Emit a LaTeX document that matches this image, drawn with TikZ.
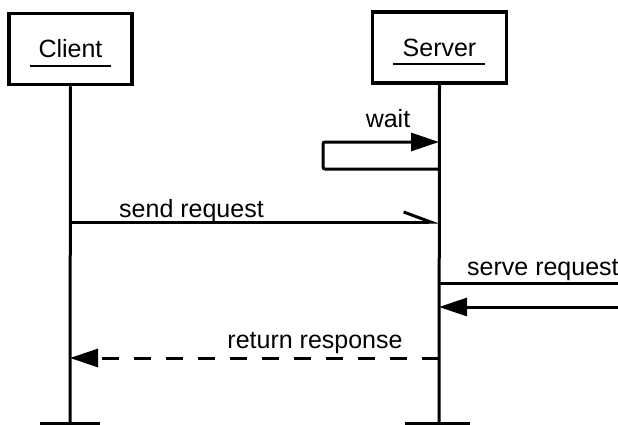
\documentclass[tikz,border=0pt]{standalone}
\usepackage{fontspec}
\setmainfont{Liberation Sans}
\usetikzlibrary{arrows.meta}
\begin{document}
\begin{tikzpicture}[x=1pt,y=-1pt,
  txt/.style={font=\fontsize{25}{29}\selectfont, inner sep=0pt},
  actor/.style={draw, line width=3.5pt, minimum height=71pt, inner sep=0pt,
                fill=white, font=\fontsize{25}{29}\selectfont},
  uline/.style={line width=2pt},
  life/.style={line width=3pt},
  msg/.style={line width=3pt},
  endbar/.style={line width=3pt},
  full/.style={-{Triangle[length=28pt,width=18pt]}},
  half/.style={-{Straight Barb[left,length=27pt,width=20pt]}},
  reply/.style={msg, dash pattern=on 17pt off 15pt}
]
\useasboundingbox (0,0) rectangle (618,425);
\clip (0,0) rectangle (618,425);

% actors
\node[actor, minimum width=123pt] (client) at (70.5,49) {Client};
\node[actor, minimum width=134pt] (server) at (439.5,47.75) {Server};
\draw[uline] ([shift={(-40.5,8)}]client.base) -- ([shift={(40.5,8)}]client.base);
\draw[uline] ([shift={(-46.5,8)}]server.base) -- ([shift={(45.5,8)}]server.base);

% lifeline ends
\coordinate (cEnd) at (70,423);
\coordinate (sEnd) at (439,423);
\coordinate (cBarL) at (40,423);
\coordinate (cBarR) at (100,423);
\coordinate (sBarL) at (405,423);
\coordinate (sBarR) at (470,423);

% points on the lifelines
\coordinate (sWaitOut) at (439,169);
\coordinate (sWaitIn)  at (439,142);
\coordinate (wLoopB)   at (323,169);
\coordinate (wLoopT)   at (323,142);
\coordinate (cSend)    at (70,222);
\coordinate (sSend)    at (439,222);
\coordinate (sServeOut) at (439,283);
\coordinate (sServeIn)  at (439,307);
\coordinate (xServeOut) at (660,283);
\coordinate (xServeIn)  at (660,307);
\coordinate (sReturn)  at (439,358);
\coordinate (cReturn)  at (70,358);

% lifelines
\draw[life] (client.south) -- (cEnd);
\draw[life] (server.south) -- (sEnd);
\draw[endbar] (cBarL) -- (cBarR);
\draw[endbar] (sBarL) -- (sBarR);

% messages
\draw[msg, full, rounded corners=2pt] (sWaitOut) -- (wLoopB) -- (wLoopT) -- (sWaitIn);
\node[txt, anchor=base] (lwait) at (388,128) {wait};

\draw[msg, half] (cSend) -- (sSend);
\node[txt, anchor=base] (lsend) at (191.5,217) {send request};

\draw[msg] (sServeOut) -- (xServeOut);
\draw[msg, full] (xServeIn) -- (sServeIn);
\node[txt, anchor=base west] (lserve) at (467,275) {serve request};

\draw[reply, full] (sReturn) -- (cReturn);
\node[txt, anchor=base] (lreturn) at (315,348) {return response};
\end{tikzpicture}
\end{document}
